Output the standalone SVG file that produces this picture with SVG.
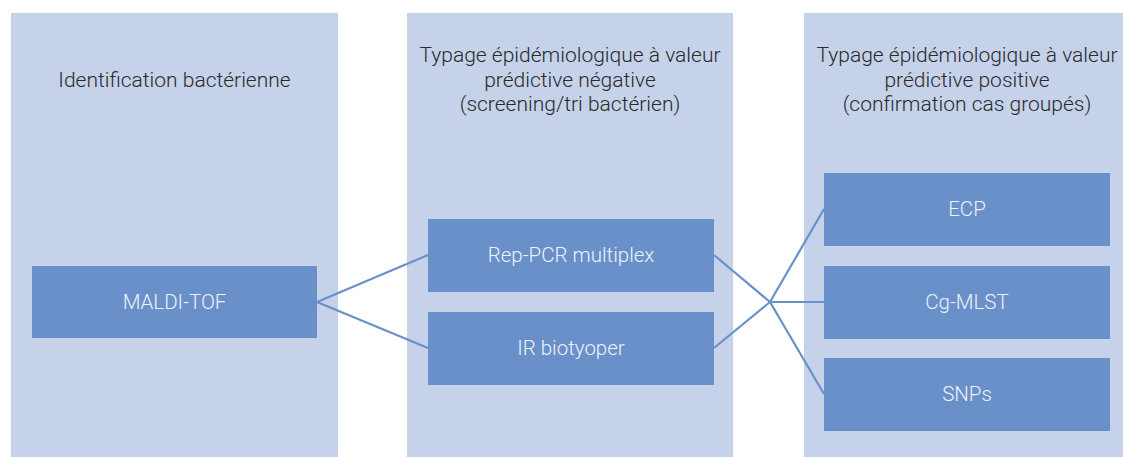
<svg xmlns="http://www.w3.org/2000/svg" width="1123" height="457" viewBox="0 0 1123 457">
  <style>
    .col { fill: #c5d2e9; }
    .box { fill: #6990c9; }
    .head { font-family: Roboto, "Liberation Sans", sans-serif; font-weight: 300; font-size: 21px; fill: #2a2a2a; text-anchor: middle; }
    .lbl { font-family: Roboto, "Liberation Sans", sans-serif; font-weight: 300; font-size: 20.5px; fill: #eef2fa; text-anchor: middle; dominant-baseline: central; }
    .link { stroke: #6990c9; stroke-width: 2.2; fill: none; }
  </style>
  <rect width="1123" height="457" fill="#ffffff"/>

  <!-- columns -->
  <g id="col-identification">
    <rect class="col" x="11" y="13" width="327" height="444"/>
    <text class="head" x="174.5" y="87">Identification bactérienne</text>
  </g>
  <g id="col-negative">
    <rect class="col" x="407" y="13" width="326" height="444"/>
    <text class="head" x="570" y="62">Typage épidémiologique à valeur</text>
    <text class="head" x="570" y="86.5">prédictive négative</text>
    <text class="head" x="570" y="111">(screening/tri bactérien)</text>
  </g>
  <g id="col-positive">
    <rect class="col" x="804" y="13" width="319" height="444"/>
    <text class="head" x="967" y="62">Typage épidémiologique à valeur</text>
    <text class="head" x="967" y="86.5">prédictive positive</text>
    <text class="head" x="967" y="111">(confirmation cas groupés)</text>
  </g>

  <!-- connectors -->
  <g id="connectors">
    <line class="link" x1="317" y1="302" x2="428" y2="255"/>
    <line class="link" x1="317" y1="302" x2="428" y2="348"/>
    <line class="link" x1="714" y1="255" x2="770" y2="302"/>
    <line class="link" x1="714" y1="348" x2="770" y2="302"/>
    <line class="link" x1="770" y1="302" x2="824" y2="209"/>
    <line class="link" x1="770" y1="302" x2="824" y2="302"/>
    <line class="link" x1="770" y1="302" x2="824" y2="394"/>
  </g>

  <!-- nodes -->
  <g id="maldi-tof">
    <rect class="box" x="32" y="266" width="285" height="72"/>
    <text class="lbl" x="174.5" y="302">MALDI-TOF</text>
  </g>
  <g id="rep-pcr">
    <rect class="box" x="428" y="219" width="286" height="73"/>
    <text class="lbl" x="571" y="255">Rep-PCR multiplex</text>
  </g>
  <g id="ir-biotyper">
    <rect class="box" x="428" y="312" width="286" height="73"/>
    <text class="lbl" x="571" y="348">IR biotyoper</text>
  </g>
  <g id="ecp">
    <rect class="box" x="824" y="173" width="286" height="73"/>
    <text class="lbl" x="967" y="209">ECP</text>
  </g>
  <g id="cg-mlst">
    <rect class="box" x="824" y="266" width="286" height="73"/>
    <text class="lbl" x="967" y="302">Cg-MLST</text>
  </g>
  <g id="snps">
    <rect class="box" x="824" y="358" width="286" height="73"/>
    <text class="lbl" x="967" y="394">SNPs</text>
  </g>
</svg>
